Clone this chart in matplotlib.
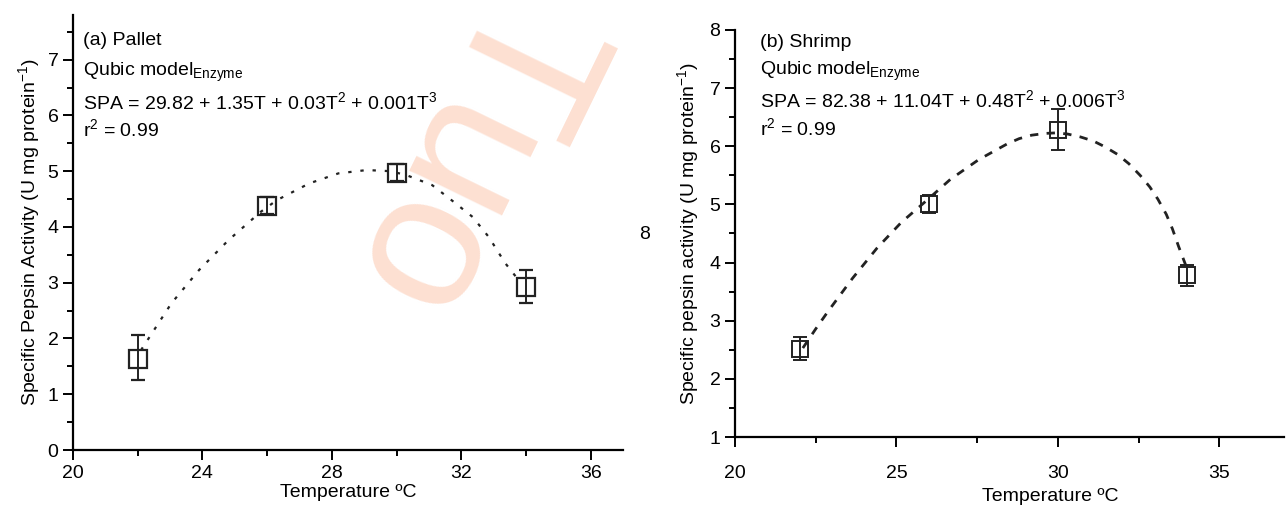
import matplotlib
matplotlib.use("Agg")
import matplotlib.pyplot as plt
from matplotlib.ticker import MultipleLocator

plt.rcParams.update({"font.family": ["Liberation Sans", "DejaVu Sans"],
                     "mathtext.default": "regular", "font.size": 14})

# (a) Pallet
temp_a = [22, 26, 30, 34]
spa_a = [1.64, 4.38, 4.97, 2.92]
err_lo_a = [0.39, 0.14, 0.15, 0.29]
err_hi_a = [0.42, 0.16, 0.15, 0.31]
fit_t_a = [22.1, 23.04, 23.9, 24.8, 25.8, 26.3, 27.3, 28.2, 29.08, 29.8, 30.3, 31.1, 31.7, 32.35, 32.85, 33.36, 33.7, 33.86]
fit_v_a = [1.79, 2.63, 3.23, 3.76, 4.27, 4.48, 4.78, 4.96, 5.02, 5.0, 4.93, 4.75, 4.48, 4.18, 3.82, 3.35, 3.1, 3.05]

# (b) Shrimp
temp_b = [22, 26, 30, 34]
spa_b = [2.52, 5.0, 6.28, 3.78]
err_lo_b = [0.2, 0.15, 0.35, 0.18]
err_hi_b = [0.2, 0.16, 0.36, 0.17]
fit_t_b = [22.1, 22.5, 22.88, 23.64, 24.4, 25.15, 25.9, 26.67, 27.55, 28.43, 28.8, 29.19, 29.6, 29.95, 30.3,
           30.7, 31.1, 31.46, 31.85, 32.2, 32.55, 32.85, 33.1, 33.36, 33.55, 33.74, 34.0]
fit_v_b = [2.53, 2.86, 3.16, 3.73, 4.25, 4.69, 5.05, 5.43, 5.77, 6.04, 6.13, 6.19, 6.22, 6.23, 6.21,
           6.16, 6.09, 5.99, 5.86, 5.7, 5.5, 5.3, 5.09, 4.83, 4.58, 4.28, 3.9]

fig = plt.figure(figsize=(12.88, 5.07), dpi=100)
ax1 = fig.add_axes([0.0567, 0.1124, 0.427, 0.858])
ax2 = fig.add_axes([0.5707, 0.138, 0.426, 0.803])
for ax in (ax1, ax2):
    ax.set_facecolor("none")
    ax.spines[["top", "right"]].set_visible(False)
    ax.spines[["left", "bottom"]].set_linewidth(1.6)
    ax.tick_params(which="major", direction="out", length=7, width=1.4, labelsize=14)
    ax.tick_params(which="minor", direction="out", length=4, width=1.4)

# watermark
ax1.text(0.362, 0.69, "Tuo", transform=fig.transFigure, fontsize=140, color="#fde0d2",
         rotation=-116, ha="center", va="center", zorder=0, clip_on=False)

ax1.plot(fit_t_a, fit_v_a, color="#222222", lw=1.6, ls=(0, (1.5, 4)), zorder=2)
ax1.errorbar(temp_a, spa_a, yerr=[err_lo_a, err_hi_a], fmt="s", ms=13, mfc="none", mec="#222222",
             mew=1.6, ecolor="#222222", elinewidth=1.4, capsize=5, capthick=1.4, zorder=3)
ax1.set_xlim(20, 37)
ax1.set_ylim(0, 7.8)
ax1.xaxis.set_major_locator(MultipleLocator(4))
ax1.xaxis.set_minor_locator(MultipleLocator(2))
ax1.yaxis.set_major_locator(MultipleLocator(1))
ax1.yaxis.set_minor_locator(MultipleLocator(0.5))
ax1.set_xlabel("Temperature ºC", fontsize=14, labelpad=2)
ax1.set_ylabel("Specific Pepsin Activity (U mg protein$^{-1}$)", fontsize=14, labelpad=4)
ax1.text(0.018, 0.9425, "(a) Pallet", transform=ax1.transAxes, fontsize=14, va="center")
ax1.text(0.018, 0.869, "Qubic model$_{Enzyme}$", transform=ax1.transAxes, fontsize=14, va="center")
ax1.text(0.018, 0.80, "SPA = 29.82 + 1.35T + 0.03T$^2$ + 0.001T$^3$", transform=ax1.transAxes,
         fontsize=14, va="center")
ax1.text(0.018, 0.738, "r$^2$ = 0.99", transform=ax1.transAxes, fontsize=14, va="center")

ax2.plot(fit_t_b, fit_v_b, color="#222222", lw=2, ls=(0, (3, 3)), zorder=2)
ax2.errorbar(temp_b, spa_b, yerr=[err_lo_b, err_hi_b], fmt="s", ms=12, mfc="none", mec="#222222",
             mew=1.4, ecolor="#222222", elinewidth=1.4, capsize=5, capthick=1.4, zorder=3)
ax2.set_xlim(20, 37)
ax2.set_ylim(1, 8)
ax2.xaxis.set_major_locator(MultipleLocator(5))
ax2.xaxis.set_minor_locator(MultipleLocator(2.5))
ax2.yaxis.set_major_locator(MultipleLocator(1))
ax2.yaxis.set_minor_locator(MultipleLocator(0.5))
ax2.tick_params(axis="x", which="major", pad=13)
ax2.set_xlabel("Temperature ºC", fontsize=14, labelpad=0)
ax2.xaxis.set_label_coords(0.5745, -0.125)
ax2.set_ylabel("Specific pepsin activity (U mg protein$^{-1}$)", fontsize=14, labelpad=6)
ax2.text(0.045, 0.97, "(b) Shrimp", transform=ax2.transAxes, fontsize=14, va="center")
ax2.text(0.045, 0.897, "Qubic model$_{Enzyme}$", transform=ax2.transAxes, fontsize=14, va="center")
ax2.text(0.045, 0.828, "SPA = 82.38 + 11.04T + 0.48T$^2$ + 0.006T$^3$", transform=ax2.transAxes,
         fontsize=14, va="center")
ax2.text(0.045, 0.759, "r$^2$ = 0.99", transform=ax2.transAxes, fontsize=14, va="center")

fig.text(645 / 1288, 1 - 235 / 507, "8", fontsize=14, ha="center", va="center")

fig.savefig("out.png", dpi=100)
